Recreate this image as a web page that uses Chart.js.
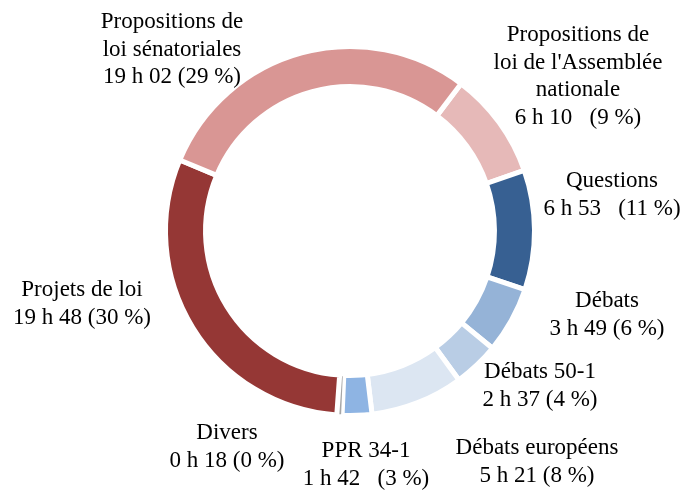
<!DOCTYPE html>
<html>
<head>
<meta charset="utf-8">
<script src="https://cdn.jsdelivr.net/npm/chart.js@4/dist/chart.umd.min.js"></script>
<style>
  html, body { margin: 0; padding: 0; background: #fff; }
  #chart { display: block; }
</style>
</head>
<body>
<canvas id="chart" width="683" height="492"></canvas>
<script>
// clockwise, starting from the slice after the top
const categories = [
  ['Propositions de', "loi de l'Assemblée", 'nationale'],
  ['Questions'],
  ['Débats'],
  ['Débats 50-1'],
  ['Débats européens'],
  ['PPR 34-1'],
  ['Divers'],
  ['Projets de loi'],
  ['Propositions de', 'loi sénatoriales']
];
const minutes = [370, 413, 229, 157, 321, 102, 18, 1188, 1142];
const durations = ['6 h 10', '6 h 53', '3 h 49', '2 h 37', '5 h 21', '1 h 42', '0 h 18', '19 h 48', '19 h 02'];
const percents = [9, 11, 6, 4, 8, 3, 0, 30, 29];
const gapAfterTime = [true, true, false, false, false, true, false, false, false];

const colors = ['#E6B9B8', '#376092', '#95B3D7', '#B9CDE5', '#DCE6F2', '#8EB4E3', '#A6A6A6', '#953735', '#D99694'];
// where each label block sits (centre x, baseline of first line)
const labelPos = [[578, 41], [612, 187], [607, 307], [540, 378], [537, 454], [366, 457], [227, 439], [82, 296], [172, 28]];

const labelPlugin = {
  id: 'outLabels',
  afterDraw(chart) {
    const ctx = chart.ctx;
    ctx.save();
    ctx.font = '23px "Liberation Serif", "Times New Roman", serif';
    ctx.fillStyle = '#000';
    ctx.textAlign = 'center';
    ctx.textBaseline = 'alphabetic';
    categories.forEach((lines, i) => {
      const sep = gapAfterTime[i] ? '   ' : ' ';
      const all = lines.concat([durations[i] + sep + '(' + percents[i] + ' %)']);
      const [x, y] = labelPos[i];
      all.forEach((t, j) => ctx.fillText(t, x, y + j * 27.5));
    });
    ctx.restore();
  }
};

new Chart(document.getElementById('chart'), {
  type: 'doughnut',
  data: {
    labels: categories.map(c => c.join(' ')),
    datasets: [{
      data: minutes,
      backgroundColor: colors,
      borderColor: '#fff',
      borderWidth: minutes.map(m => m < 60 ? 2 : 5)
    }]
  },
  options: {
    responsive: false,
    animation: false,
    events: [],
    rotation: 37,
    radius: 184.5,
    cutout: '78.3%',
    layout: { padding: { left: 17, right: 0, top: 0, bottom: 30 } },
    plugins: {
      legend: { display: false },
      tooltip: { enabled: false }
    }
  },
  plugins: [labelPlugin]
});
</script>
</body>
</html>
